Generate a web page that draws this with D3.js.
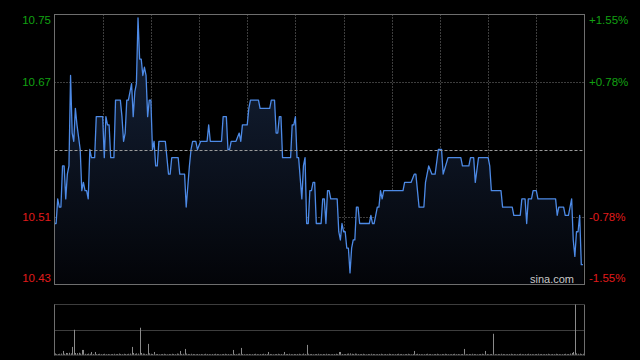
<!DOCTYPE html>
<html>
<head>
<meta charset="utf-8">
<script src="https://cdn.jsdelivr.net/npm/d3@7"></script>
<style>
  html, body { margin: 0; padding: 0; background: #000; }
  svg { display: block; }
</style>
</head>
<body>
<svg id="chart" width="640" height="360"></svg>
<script>
// ---- data ----
const prevClose = 10.59;
const rangePct = 0.0155;
const leftTickLabels = ["10.75", "10.67", "10.51", "10.43"];
const rightTickLabels = ["+1.55%", "+0.78%", "-0.78%", "-1.55%"];
const sessionMinutes = 330;
const gridMinutes = [30, 60, 90, 120, 150, 180, 210, 240, 270, 300];

const minutes = [0,1,2,3,4,5,6,7,8,9,10,11,12,13,14,16,17,18,19,20,21,22,23,25,26,30,31,32,33,34,35,37,38,41,42,43,44,45,46,47,48,49,50,51,52,53,54,55,56,57,58,59,60,61,62,63,64,65,69,71,72,73,77,78,81,82,84,85,86,88,89,91,95,96,97,104,105,107,108,109,110,113,115,116,117,120,121,122,127,128,134,135,137,138,139,140,141,142,147,148,149,150,151,152,154,155,156,157,158,159,160,161,162,163,166,167,168,169,170,171,172,176,177,178,179,180,181,182,183,184,185,186,187,188,189,190,196,197,198,199,201,202,203,204,205,217,218,222,224,225,227,230,231,233,235,237,239,241,242,245,253,254,258,259,261,262,264,270,271,272,278,279,285,286,290,291,293,294,295,297,298,300,301,312,313,314,317,318,320,322,323,324,325,326,327,328,329];
const prices = [10.50,10.50,10.53,10.52,10.52,10.57,10.57,10.53,10.56,10.57,10.68,10.61,10.60,10.64,10.62,10.59,10.54,10.55,10.54,10.54,10.53,10.59,10.58,10.58,10.63,10.63,10.58,10.63,10.62,10.62,10.58,10.58,10.65,10.65,10.63,10.60,10.61,10.65,10.65,10.66,10.67,10.63,10.66,10.67,10.75,10.70,10.70,10.68,10.69,10.68,10.63,10.65,10.65,10.59,10.60,10.57,10.57,10.60,10.60,10.56,10.56,10.58,10.58,10.56,10.56,10.52,10.57,10.59,10.60,10.60,10.59,10.60,10.60,10.62,10.60,10.60,10.63,10.63,10.59,10.59,10.60,10.60,10.61,10.60,10.62,10.62,10.64,10.65,10.65,10.64,10.64,10.65,10.65,10.61,10.61,10.63,10.63,10.58,10.58,10.62,10.62,10.63,10.58,10.58,10.53,10.57,10.58,10.50,10.50,10.54,10.54,10.55,10.55,10.50,10.50,10.53,10.53,10.50,10.54,10.54,10.53,10.53,10.49,10.48,10.50,10.49,10.49,10.47,10.47,10.44,10.47,10.48,10.48,10.52,10.52,10.50,10.50,10.51,10.50,10.50,10.52,10.52,10.54,10.53,10.54,10.54,10.55,10.55,10.56,10.56,10.52,10.52,10.55,10.57,10.56,10.56,10.59,10.59,10.56,10.58,10.58,10.57,10.57,10.58,10.58,10.55,10.58,10.58,10.57,10.54,10.54,10.52,10.52,10.51,10.51,10.53,10.53,10.50,10.53,10.53,10.54,10.54,10.53,10.53,10.51,10.52,10.52,10.51,10.51,10.53,10.48,10.46,10.49,10.49,10.51,10.45,10.45];

// volume per minute (thousand shares, estimated)
const volumes = [
  15,8,10,12,14,40,12,20,18,22,16,80,250,20,18,22,14,50,50,12,10,14,12,30,10,30,8,10,12,8,
  10,12,8,10,6,8,10,12,8,10,14,10,8,12,10,8,12,14,80,20,12,16,14,270,20,14,12,10,110,16,
  12,10,30,8,10,6,8,10,12,8,6,10,8,12,10,8,14,12,40,10,12,60,14,10,8,12,10,8,6,10,
  8,10,6,8,12,10,8,6,10,8,12,10,8,6,8,10,12,8,10,6,8,50,10,8,12,14,70,10,8,6,
  8,10,6,8,10,12,8,6,10,8,12,10,8,30,10,8,6,8,10,12,8,10,6,30,8,10,12,8,6,10,
  8,10,12,8,6,14,10,100,12,8,10,6,8,10,12,8,6,10,8,12,10,8,6,8,10,12,8,30,30,10,
  8,10,12,14,16,12,10,14,12,10,8,10,12,8,6,10,8,12,10,8,6,8,10,12,8,6,10,8,12,10,
  8,6,8,10,12,8,10,6,8,10,12,8,6,10,40,8,12,10,8,6,8,10,12,8,10,6,8,10,12,8,
  6,10,8,12,10,8,6,8,10,12,8,10,6,8,10,60,8,6,10,8,12,10,8,6,8,10,12,8,40,10,
  6,8,10,210,8,6,10,8,12,10,8,6,8,10,12,8,10,6,8,10,12,8,6,10,8,12,10,8,6,8,
  10,12,8,10,6,8,10,12,8,6,10,8,12,10,8,6,8,10,12,8,10,14,20,30,500,16,12,14,10,12
];

// ---- layout ----
const plot = { left: 54.5, right: 584.5, top: 14.5, bottom: 284.5 };
const vol = { top: 304.5, bottom: 355.5 };

const svg = d3.select("#chart");
const half = prevClose * rangePct;

const x = d3.scaleLinear().domain([0, sessionMinutes]).range([plot.left, plot.right]);
const y = d3.scaleLinear().domain([prevClose - half, prevClose + half]).range([plot.bottom, plot.top]);
const yv = d3.scaleLinear().domain([0, d3.max(volumes)]).range([vol.bottom - 0.5, vol.top]);

const defs = svg.append("defs");
const grad = defs.append("linearGradient").attr("id", "fillGrad")
  .attr("gradientUnits", "userSpaceOnUse")
  .attr("x1", 0).attr("x2", 0).attr("y1", plot.top).attr("y2", plot.bottom);
grad.append("stop").attr("offset", "0%").attr("stop-color", "#16243c");
grad.append("stop").attr("offset", "100%").attr("stop-color", "#030408");
defs.append("clipPath").attr("id", "plotClip").append("rect")
  .attr("x", plot.left).attr("y", plot.top)
  .attr("width", plot.right - plot.left).attr("height", plot.bottom - plot.top);

const gridColor = "#7a7a7a";

// vertical grid
svg.append("g").selectAll("line").data(gridMinutes).join("line")
  .attr("x1", d => Math.round(x(d)) + 0.5).attr("x2", d => Math.round(x(d)) + 0.5)
  .attr("y1", plot.top).attr("y2", plot.bottom)
  .attr("stroke", gridColor).attr("stroke-width", 1).attr("stroke-dasharray", "1,2");

// horizontal grid (±0.78%)
const hGrid = [prevClose + half / 2, prevClose - half / 2];
svg.append("g").selectAll("line").data(hGrid).join("line")
  .attr("x1", plot.left).attr("x2", plot.right)
  .attr("y1", d => Math.round(y(d)) + 0.5).attr("y2", d => Math.round(y(d)) + 0.5)
  .attr("stroke", gridColor).attr("stroke-width", 1).attr("stroke-dasharray", "1,2");

// series
const pts = minutes.map((m, i) => [m, prices[i]]);
const g = svg.append("g").attr("clip-path", "url(#plotClip)");
g.append("path").datum(pts)
  .attr("d", d3.area().x(d => x(d[0])).y0(plot.bottom).y1(d => y(d[1])))
  .attr("fill", "url(#fillGrad)");

// prev close line
svg.append("line")
  .attr("x1", plot.left).attr("x2", plot.right)
  .attr("y1", Math.round(y(prevClose)) + 0.5).attr("y2", Math.round(y(prevClose)) + 0.5)
  .attr("stroke", "#9a9a9a").attr("stroke-width", 1).attr("stroke-dasharray", "3,2");

g.append("path").datum(pts)
  .attr("d", d3.line().x(d => x(d[0])).y(d => y(d[1])))
  .attr("fill", "none").attr("stroke", "#4d8ae6").attr("stroke-width", 1.3)
  .attr("stroke-linejoin", "round");

// plot border
svg.append("rect")
  .attr("x", plot.left).attr("y", plot.top)
  .attr("width", plot.right - plot.left).attr("height", plot.bottom - plot.top)
  .attr("fill", "none").attr("stroke", "#6e6e6e").attr("stroke-width", 1);

// labels
const labelVals = [prevClose + half, prevClose + half / 2, prevClose - half / 2, prevClose - half];
const labelY = [20, 82, 217, 278];
const font = "'Liberation Sans', Arial, sans-serif";
svg.append("g").selectAll("text").data(leftTickLabels).join("text")
  .attr("x", 51).attr("y", (d, i) => labelY[i]).attr("dy", "0.35em")
  .attr("text-anchor", "end").attr("font-family", font).attr("font-size", 11.5)
  .attr("fill", (d, i) => i < 2 ? "#12a012" : "#e01b1b").text(d => d);
svg.append("g").selectAll("text").data(rightTickLabels).join("text")
  .attr("x", 589).attr("y", (d, i) => labelY[i]).attr("dy", "0.35em")
  .attr("text-anchor", "start").attr("font-family", font).attr("font-size", 11.5)
  .attr("fill", (d, i) => i < 2 ? "#12a012" : "#e01b1b").text(d => d);

svg.append("text").attr("x", 574).attr("y", 282.5).attr("text-anchor", "end")
  .attr("font-family", font).attr("font-size", 11).attr("fill", "#c8c8c8").text("sina.com");

// volume panel
svg.append("line").attr("x1", plot.left).attr("x2", plot.right)
  .attr("y1", vol.top).attr("y2", vol.top)
  .attr("stroke", gridColor).attr("stroke-dasharray", "1,1");
svg.append("line").attr("x1", plot.left).attr("x2", plot.right)
  .attr("y1", Math.round((vol.top + vol.bottom) / 2) + 0.5).attr("y2", Math.round((vol.top + vol.bottom) / 2) + 0.5)
  .attr("stroke", gridColor).attr("stroke-dasharray", "1,1");
svg.append("g").selectAll("line").data(volumes).join("line")
  .attr("x1", (d, i) => Math.round(x(i)) + 0.5).attr("x2", (d, i) => Math.round(x(i)) + 0.5)
  .attr("y1", vol.bottom - 0.5).attr("y2", d => yv(d))
  .attr("stroke", "#8a8a8a").attr("stroke-width", 1);
svg.append("line").attr("x1", plot.left).attr("x2", plot.right)
  .attr("y1", vol.bottom - 0.5).attr("y2", vol.bottom - 0.5)
  .attr("stroke", "#555").attr("stroke-width", 1);
svg.append("line").attr("x1", plot.left).attr("x2", plot.left)
  .attr("y1", vol.top).attr("y2", vol.bottom).attr("stroke", "#6e6e6e");
svg.append("line").attr("x1", plot.right).attr("x2", plot.right)
  .attr("y1", vol.top).attr("y2", vol.bottom).attr("stroke", "#6e6e6e");
</script>
</body>
</html>
